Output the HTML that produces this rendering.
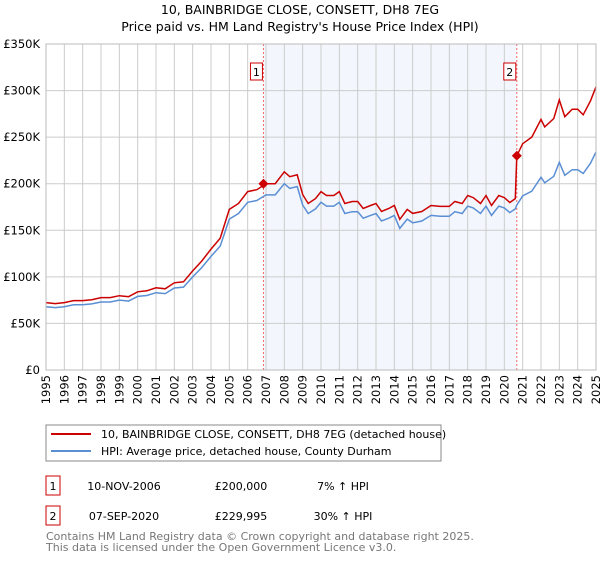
<!DOCTYPE html>
<html><head><meta charset="utf-8"><style>
body{margin:0;background:#fff;font-family:"Liberation Sans","DejaVu Sans",sans-serif;}
svg text{font-family:"DejaVu Sans","Liberation Sans",sans-serif;}
</style></head><body>
<svg id="chart" width="600" height="560" viewBox="0 0 600 560" xmlns="http://www.w3.org/2000/svg">
<text x="300" y="14" text-anchor="middle" font-size="12.5">10, BAINBRIDGE CLOSE, CONSETT, DH8 7EG</text>
<text x="300" y="31" text-anchor="middle" font-size="12.5">Price paid vs. HM Land Registry's House Price Index (HPI)</text>
<g id="plot"></g>
<rect x="46" y="425" width="395" height="36" fill="#fff" stroke="#888"/>
<line x1="51" y1="434" x2="91" y2="434" stroke="#cc0000" stroke-width="2"/>
<text x="101" y="438" font-size="11">10, BAINBRIDGE CLOSE, CONSETT, DH8 7EG (detached house)</text>
<line x1="51" y1="451" x2="91" y2="451" stroke="#5b8fd4" stroke-width="2"/>
<text x="101" y="455" font-size="11">HPI: Average price, detached house, County Durham</text>
<rect x="46" y="476" width="14" height="19" fill="#fff" stroke="#cc0000"/>
<text x="53" y="490" text-anchor="middle" font-size="11">1</text>
<text x="124" y="490" text-anchor="middle" font-size="11">10-NOV-2006</text>
<text x="241" y="490" text-anchor="middle" font-size="11">£200,000</text>
<text x="343" y="490" text-anchor="middle" font-size="11">7% ↑ HPI</text>
<rect x="46" y="506" width="14" height="19" fill="#fff" stroke="#cc0000"/>
<text x="53" y="520" text-anchor="middle" font-size="11">2</text>
<text x="124" y="520" text-anchor="middle" font-size="11">07-SEP-2020</text>
<text x="241" y="520" text-anchor="middle" font-size="11">£229,995</text>
<text x="343" y="520" text-anchor="middle" font-size="11">30% ↑ HPI</text>
<text x="46" y="540" font-size="11" fill="#777">Contains HM Land Registry data © Crown copyright and database right 2025.</text>
<text x="46" y="551" font-size="11" fill="#777">This data is licensed under the Open Government Licence v3.0.</text>
</svg>
<script>
const dates=[1995,1995.5,1996,1996.5,1997,1997.5,1998,1998.5,1999,1999.5,2000,2000.5,2001,2001.5,2002,2002.5,2003,2003.5,2004,2004.5,2005,2005.5,2006,2006.5,2007,2007.5,2008,2008.3,2008.7,2009,2009.3,2009.7,2010,2010.3,2010.7,2011,2011.3,2011.7,2012,2012.3,2012.7,2013,2013.3,2013.7,2014,2014.3,2014.7,2015,2015.5,2016,2016.5,2017,2017.3,2017.7,2018,2018.3,2018.7,2019,2019.3,2019.7,2020,2020.3,2020.6,2020.68,2021,2021.5,2022,2022.2,2022.7,2023,2023.3,2023.7,2024,2024.3,2024.7,2025];
const hpiValues=[68,67,68,70,70,71,73,73,75,74,79,80,83,82,88,89,100,110,122,133,162,168,180,182,188,188,200,195,197,177,168,173,180,176,176,180,168,170,170,163,166,168,160,163,166,152,162,158,160,166,165,165,170,168,176,174,168,176,166,176,174,169,173,177,187,192,207,201,208,223,209,215,215,211,222,234];
const priceValues=[72.4,71.3,72.4,74.5,74.5,75.5,77.7,77.7,79.8,78.7,84,85,88.3,87.2,93.6,94.7,106.4,117,129.8,141.5,172.4,178.8,191.5,193.6,200,200,212.8,207.5,209.6,188.3,178.8,184,191.5,187.3,187.3,191.5,178.8,180.9,180.9,173.4,176.6,178.8,170.2,173.4,176.6,161.7,172.4,168.1,170.2,176.6,175.6,175.6,180.9,178.8,187.3,185.1,178.8,187.3,176.6,187.3,185.1,179.8,184,230,243,250,269,261,270,290,272,280,280,274,289,304];
const yTicks=[0,50,100,150,200,250,300,350];
const yTickLabels=["£0","£50K","£100K","£150K","£200K","£250K","£300K","£350K"];
const years=[1995,1996,1997,1998,1999,2000,2001,2002,2003,2004,2005,2006,2007,2008,2009,2010,2011,2012,2013,2014,2015,2016,2017,2018,2019,2020,2021,2022,2023,2024,2025];
const saleDates=[2006.86,2020.68];
const salePrices=[200,229.995];
const saleLabels=["1","2"];
const NS="http://www.w3.org/2000/svg";
const X0=46,X1=596,Y0=370,Y1=44;
const xs=d=>X0+(d-1995)/30*(X1-X0);
const ys=v=>Y0-v/350*(Y0-Y1);
const g=document.getElementById('plot');
function mk(t,a){const e=document.createElementNS(NS,t);for(const k in a)e.setAttribute(k,a[k]);g.appendChild(e);return e;}
let sh=mk('rect',{x:xs(saleDates[0]),y:Y1,width:xs(saleDates[1])-xs(saleDates[0]),height:Y0-Y1,fill:'#eef3fc',opacity:0.7});


years.forEach(y=>{
 let l=mk('line',{x1:xs(y),x2:xs(y),y1:Y1,y2:Y0,stroke:'#ccc','stroke-width':1});
 
 
 let t=mk('text',{x:0,y:0,'font-size':11.5,'text-anchor':'end',transform:`translate(${xs(y)+4},${Y0+5}) rotate(-90)`});
 t.textContent=y;
 
 
});
yTicks.forEach((v,i)=>{
 let l=mk('line',{x1:X0,x2:X1,y1:ys(v),y2:ys(v),stroke:'#ccc','stroke-width':1});
 
 
 let t=mk('text',{x:X0-6,y:ys(v)+4,'font-size':11.5,'text-anchor':'end'});
 t.textContent=yTickLabels[i];
 
 
});
saleDates.forEach((d,i)=>{
 let l=mk('line',{x1:xs(d),x2:xs(d),y1:Y1,y2:Y0,stroke:'#e66','stroke-width':1,'stroke-dasharray':'2,2'});
 
 
 let b=mk('rect',{x:xs(d)-13,y:63,width:12,height:17,fill:'#fff',stroke:'#cc0000'});
 
 
 let t=mk('text',{x:xs(d)-7,y:76,'font-size':11,'text-anchor':'middle'});
 t.textContent=saleLabels[i];
 
 
});
const pts=a=>dates.map((d,i)=>xs(d).toFixed(1)+','+ys(a[i]).toFixed(1)).join(' ');
let hl=mk('polyline',{points:pts(hpiValues),fill:'none',stroke:'#5b8fd4','stroke-width':1.5});


let pl=mk('polyline',{points:pts(priceValues),fill:'none',stroke:'#cc0000','stroke-width':1.5});


saleDates.forEach((d,i)=>{
 const x=xs(d),y=ys(salePrices[i]);
 let p=mk('polygon',{points:`${x},${y-5} ${x+5},${y} ${x},${y+5} ${x-5},${y}`,fill:'#cc0000'});
 
 
});
let ax=mk('rect',{x:X0,y:Y1,width:X1-X0,height:Y0-Y1,fill:'none',stroke:'#bbb'});


</script>
</body></html>
